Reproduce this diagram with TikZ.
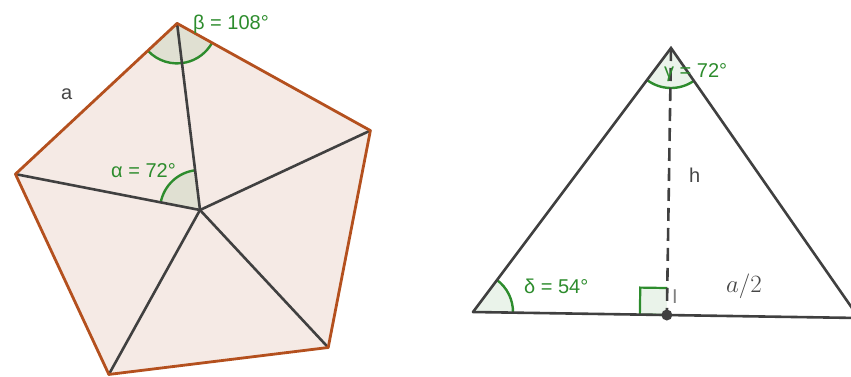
\documentclass[tikz,border=0pt]{standalone}
\usepackage{fontspec}
\setmainfont{Liberation Sans}
\usetikzlibrary{calc,angles}
\definecolor{pentfill}{RGB}{245,234,229}
\definecolor{pentedge}{RGB}{180,80,30}
\definecolor{segcol}{RGB}{64,64,64}
\definecolor{anggreen}{RGB}{45,140,45}
\definecolor{labelgray}{RGB}{70,70,70}
\tikzset{
  edge/.style={draw=pentedge,line width=2.8pt,line join=round},
  seg/.style={draw=segcol,line width=2.6pt,line cap=round},
  ang/.style={draw=anggreen,line width=2.4pt,fill=anggreen,fill opacity=0.1,draw opacity=1,angle radius=40pt},
  angtxt/.style={text=anggreen,font=\fontsize{20}{20}\selectfont,inner sep=0pt,anchor=base west},
  lbl/.style={text=labelgray,font=\fontsize{20}{20}\selectfont,inner sep=0pt,anchor=base west}
}
\begin{document}
\begin{tikzpicture}[x=1pt,y=1pt]
\clip (0,0) rectangle (851,-376);
\useasboundingbox (0,0) rectangle (851,-376);
% pentagon
\coordinate (O) at (200,-210);
\coordinate (P1) at ($(O)+(97:188)$);
\coordinate (P2) at ($(O)+(169:188)$);
\coordinate (P3) at ($(O)+(241:188)$);
\coordinate (P4) at ($(O)+(313:188)$);
\coordinate (P5) at ($(O)+(25:188)$);
\fill[pentfill] (P1) -- (P2) -- (P3) -- (P4) -- (P5) -- cycle;
\pic[ang] {angle=P2--P1--P5};
\pic[ang] {angle=P1--O--P2};
\foreach \p in {P1,P2,P3,P4,P5} \draw[seg] (O) -- (\p);
\draw[edge] (P1) -- (P2) -- (P3) -- (P4) -- (P5) -- cycle;
\node[angtxt] (beta) at (193,-29) {β = 108°};
\node[angtxt] (alpha) at (111,-177) {α = 72°};
\node[lbl] (la) at (61,-99) {a};
% triangle
\coordinate (A) at (671,-48);
\coordinate (B) at (473,-312);
\coordinate (C) at (859,-318);
\coordinate (F) at ($(B)!(A)!(C)$);
\coordinate (Q1) at ($(F)!27pt!(B)$);
\coordinate (Q2) at ($(F)!27pt!(A)$);
\coordinate (Q3) at ($(Q1)+(Q2)-(F)$);
\pic[ang] {angle=B--A--C};
\pic[ang] {angle=C--B--A};
\filldraw[draw=anggreen,line width=2.2pt,fill=anggreen,fill opacity=0.1,draw opacity=1] (F) -- (Q1) -- (Q3) -- (Q2);
\draw[seg,line cap=butt,dash pattern=on 13pt off 7pt] (A) -- (F);
\draw[seg,line join=miter] (B) -- (A) -- (C);
\draw[seg] (B) -- (C);
\fill[segcol] (F) circle (5.5);
\node[angtxt] (gamma) at (664,-77) {γ = 72°};
\node[angtxt] (delta) at (524,-293) {δ = 54°};
\node[lbl] (lh) at (689,-182) {h};
\node[text=labelgray,font=\fontsize{23.5}{23.5}\selectfont,inner sep=0pt,anchor=base west] (half) at (726,-292) {$a/2$};
\node[text=gray,font=\fontsize{20}{20}\selectfont,inner sep=0pt,anchor=base west] (lI) at (672,-303) {I};
\end{tikzpicture}
\end{document}
